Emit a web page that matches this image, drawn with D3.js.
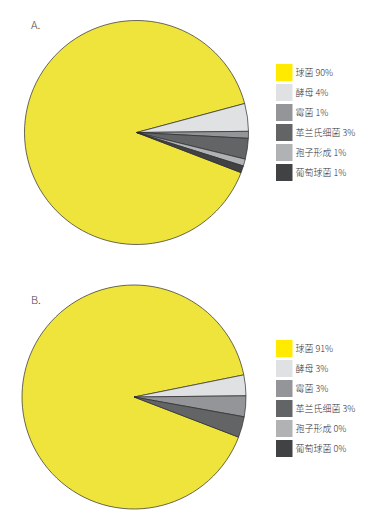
<!DOCTYPE html>
<html><head><meta charset="utf-8">
<script src="https://cdn.jsdelivr.net/npm/d3@7"></script>
<style>body{margin:0;background:#fff}svg{display:block}</style>
</head><body>
<script>
const categories = ["球菌","酵母","霉菌","革兰氏细菌","孢子形成","葡萄球菌"];
const valuesA = [90,4,1,3,1,1];
const valuesB = [91,3,3,3,0,0];
const panelLabels = ["A.","B."];
const sliceColors = ["#efe43c","#e0e1e3","#939598","#636466","#b1b2b4","#414244"];
const legendColors = ["#ffea00","#e0e1e3","#939598","#636466","#b1b2b4","#414244"];

const W=391,H=519;
const svg=d3.select("body").append("svg").attr("width",W).attr("height",H);
const font="'Noto Sans CJK SC','Noto Sans',sans-serif";

const panels=[
 {label:panelLabels[0],values:valuesA,cx:136.5,cy:132.5,labelY:29,legY:64},
 {label:panelLabels[1],values:valuesB,cx:134,cy:397,labelY:304,legY:340}
];
const r=112;
const start=111*Math.PI/180;
const pie=d3.pie().sort(null).value(d=>d.v).startAngle(start).endAngle(start+2*Math.PI);
const arc=d3.arc().innerRadius(0).outerRadius(r);
const color=d3.scaleOrdinal().domain(categories).range(sliceColors);
const lcolor=d3.scaleOrdinal().domain(categories).range(legendColors);

panels.forEach(p=>{
  const g=svg.append("g");
  g.append("text").attr("x",31).attr("y",p.labelY).text(p.label)
    .attr("font-family",font).attr("font-size",11).attr("font-weight",300).attr("fill","#3f4250");
  const data=categories.map((c,i)=>({c,v:p.values[i]}));
  const pg=g.append("g").attr("transform",`translate(${p.cx},${p.cy})`);
  pg.selectAll("path").data(pie(data).filter(d=>d.data.v>0)).join("path")
    .attr("d",arc).attr("fill",d=>color(d.data.c))
    .attr("stroke","#2b2b2b").attr("stroke-width",0.7).attr("stroke-linejoin","round");
  const y=d3.scaleBand().domain(categories).range([p.legY,p.legY+19.5*6]).paddingInner(0.15).paddingOuter(0);
  const lg=g.append("g");
  const items=lg.selectAll("g").data(data).join("g").attr("transform",d=>`translate(276,${y(d.c)})`);
  items.append("rect").attr("width",16.5).attr("height",y.bandwidth()).attr("fill",d=>lcolor(d.c));
  items.append("text").attr("x",19.5).attr("y",y.bandwidth()/2).attr("dy","0.35em")
    .text(d=>`${d.c} ${d.v}%`).attr("font-family",font).attr("font-size",9).attr("font-weight",300).attr("fill","#2e3038");
});
</script>
</body></html>
